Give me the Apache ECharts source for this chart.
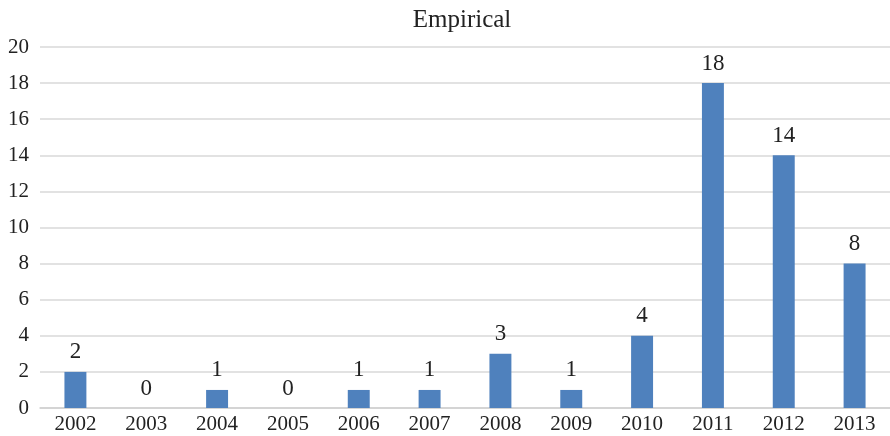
<!DOCTYPE html>
<html>
<head>
<meta charset="utf-8">
<script src="https://cdn.jsdelivr.net/npm/echarts@6/dist/echarts.min.js"></script>
<style>
html,body{margin:0;padding:0;background:#fff;}
#chart{width:890px;height:436px;}
</style>
</head>
<body>
<div id="chart"></div>
<script>
const years = ['2002','2003','2004','2005','2006','2007','2008','2009','2010','2011','2012','2013'];
const counts = [2, 0, 1, 0, 1, 1, 3, 1, 4, 18, 14, 8];
const yTicks = {min: 0, max: 20, step: 2};

const serif = '"Liberation Serif", "Times New Roman", serif';
const chart = echarts.init(document.getElementById('chart'));
chart.setOption({
  animation: false,
  title: {
    text: 'Empirical',
    top: 3,
    left: 457,
    textAlign: 'center',
    textStyle: {fontFamily: serif, fontSize: 25, fontWeight: 'normal', color: '#222'}
  },
  grid: {left: 40, right: -5, top: 47, bottom: 28, containLabel: false},
  xAxis: {
    type: 'category',
    data: years,
    axisLine: {lineStyle: {color: '#d0d0d0', width: 1.5}},
    axisTick: {show: false},
    axisLabel: {fontFamily: serif, fontSize: 21, color: '#222', margin: 6}
  },
  yAxis: {
    type: 'value',
    min: yTicks.min,
    max: yTicks.max,
    interval: yTicks.step,
    axisLine: {show: false},
    axisTick: {show: false},
    splitLine: {lineStyle: {color: '#d9d9d9', width: 1.5}},
    axisLabel: {fontFamily: serif, fontSize: 21, color: '#222', margin: 11}
  },
  series: [{
    type: 'bar',
    data: counts,
    barWidth: '31%',
    itemStyle: {color: '#4F81BD'},
    label: {
      show: true,
      position: 'top',
      distance: 8,
      fontFamily: serif,
      fontSize: 23,
      color: '#222'
    }
  }]
});
</script>
</body>
</html>
